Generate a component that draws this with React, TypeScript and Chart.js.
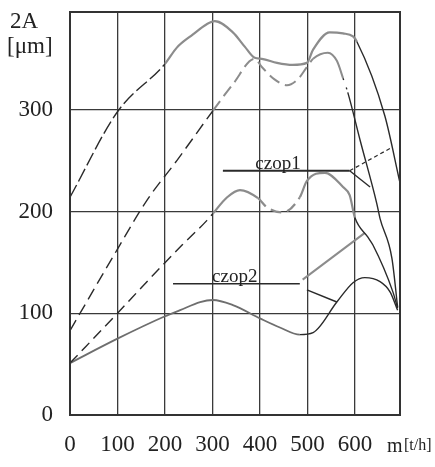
import React, { useEffect, useRef } from 'react';
import { Chart, registerables } from 'chart.js';
Chart.register(...registerables);

// axis ticks
const xTicks = [0, 100, 200, 300, 400, 500, 600];
const yTicks = [0, 100, 200, 300];
const xMax = 695;
const yMax = 396;

// upper envelope curve
const upperX = [0, 100, 200, 225, 259, 288, 305, 343, 368, 389, 404, 436, 469, 499, 512, 547, 575, 596, 604, 663, 695];
const upperY = [214, 298, 345, 361, 374, 384, 387, 376, 362, 351, 350, 346, 344, 346, 359, 376, 375, 372, 367, 294, 228];

// second (dashed) curve
const curveBX = [0, 100, 162, 225, 301, 343, 389, 404, 430, 457, 480, 499, 512, 543, 562, 575, 585, 611, 646, 653, 678, 690];
const curveBY = [83, 163, 211, 250, 299, 325, 350, 342, 330, 324, 330, 342, 350, 356, 348, 331, 317, 270, 208, 193, 154, 106];

// czop1 lower curve
const curveDX = [0, 100, 162, 236, 288, 301, 331, 358, 396, 415, 448, 484, 499, 537, 575, 589, 600, 627, 638, 680, 690];
const curveDY = [51, 100, 131, 167, 191, 198, 214, 221, 213, 204, 199, 214, 230, 238, 224, 216, 194, 175, 167, 121, 105];

// czop2 lower curve
const curveCX = [0, 100, 200, 232, 274, 301, 343, 400, 442, 484, 512, 562, 596, 621, 653, 674, 690];
const curveCY = [51, 75, 97, 103, 111, 113, 108, 95, 86, 79, 81, 111, 130, 135, 131, 121, 103];

// label leader lines
const czop1LineX = [322, 589];
const czop1LineY = [240, 240];
const czop1DotX = [589, 678];
const czop1DotY = [240, 263];
const czop1TickX = [589, 632];
const czop1TickY = [240, 224];
const czop2LineX = [217, 484];
const czop2LineY = [129, 129];
const czop2GrayX = [490, 621];
const czop2GrayY = [133, 179];
const czop2TickX = [499, 562];
const czop2TickY = [123, 111];

const czop1Text = 'czop1';
const czop1Pos = { x: 438, y: 242 };
const czop2Text = 'czop2';
const czop2Pos = { x: 347, y: 131 };

const pts = (xs: number[], ys: number[]) => xs.map((x, i) => ({ x, y: ys[i] }));

export default function App() {
  const ref = useRef<HTMLCanvasElement>(null);
  useEffect(() => {
    const serif = '"Liberation Serif", "Times New Roman", serif';
    const BLACK = '#2a2a2a';
    const GRAY = '#8c8c8c';

    const annot = {
      id: 'annot',
      beforeDraw(chart: any) {
        const c = chart.ctx;
        c.save();
        c.fillStyle = '#ffffff';
        c.fillRect(0, 0, chart.width, chart.height);
        c.restore();
      },
      afterDraw(chart: any) {
        const c = chart.ctx;
        const a = chart.chartArea;
        const xs = chart.scales.x;
        const ys = chart.scales.y;
        c.save();
        c.strokeStyle = '#333';
        c.lineWidth = 2;
        c.strokeRect(a.left, a.top, a.right - a.left, a.bottom - a.top);
        c.fillStyle = '#222';
        c.textAlign = 'center';
        c.textBaseline = 'alphabetic';
        c.font = `19px ${serif}`;
        c.fillText(czop1Text, xs.getPixelForValue(czop1Pos.x), ys.getPixelForValue(czop1Pos.y));
        c.fillText(czop2Text, xs.getPixelForValue(czop2Pos.x), ys.getPixelForValue(czop2Pos.y));
        c.textAlign = 'left';
        c.font = `23px ${serif}`;
        c.fillText('2A', 10, 28);
        c.fillText('[\u03bcm]', 7, 53);
        c.font = `20px ${serif}`;
        c.fillText('m', 387, 452);
        c.font = `16px ${serif}`;
        c.fillText('[t/h]', 404, 450);
        c.restore();
      },
    };

    const line = (data: any, extra: any) => ({
      data,
      borderColor: BLACK,
      borderWidth: 1.4,
      pointRadius: 0,
      fill: false,
      cubicInterpolationMode: 'monotone',
      ...extra,
    });

    const chart = new Chart(ref.current as HTMLCanvasElement, {
      type: 'line',
      data: {
        datasets: [
          line(pts(upperX, upperY), {
            segment: {
              borderDash: (ctx: any) => (ctx.p0.parsed.x < 200 ? [14, 4] : undefined),
              borderColor: (ctx: any) => (ctx.p0.parsed.x < 200 || ctx.p0.parsed.x >= 604 ? BLACK : GRAY),
              borderWidth: (ctx: any) => (ctx.p0.parsed.x < 200 || ctx.p0.parsed.x >= 604 ? 1.4 : 2.2),
            },
          }),
          line(pts(curveBX, curveBY), {
            segment: {
              borderDash: (ctx: any) => (ctx.p0.parsed.x < 500 ? [12, 6] : ctx.p0.parsed.x >= 575 && ctx.p0.parsed.x < 585 ? [2, 8] : undefined),
              borderColor: (ctx: any) => (ctx.p0.parsed.x >= 300 && ctx.p0.parsed.x < 575 ? GRAY : BLACK),
              borderWidth: (ctx: any) => (ctx.p0.parsed.x >= 300 && ctx.p0.parsed.x < 575 ? 2 : 1.4),
            },
          }),
          line(pts(curveDX, curveDY), {
            segment: {
              borderDash: (ctx: any) => (ctx.p0.parsed.x < 300 || (ctx.p0.parsed.x >= 396 && ctx.p0.parsed.x < 484) ? [11, 6] : undefined),
              borderColor: (ctx: any) => (ctx.p0.parsed.x < 300 || ctx.p0.parsed.x >= 600 ? BLACK : GRAY),
              borderWidth: (ctx: any) => (ctx.p0.parsed.x < 300 || ctx.p0.parsed.x >= 600 ? 1.4 : 2.2),
            },
          }),
          line(pts(curveCX, curveCY), {
            segment: {
              borderColor: (ctx: any) => (ctx.p0.parsed.x < 484 ? '#6e6e6e' : BLACK),
              borderWidth: (ctx: any) => (ctx.p0.parsed.x < 484 ? 1.8 : 1.4),
            },
          }),
          line(pts(czop1LineX, czop1LineY), { borderWidth: 1.8 }),
          line(pts(czop1DotX, czop1DotY), { borderDash: [4, 3], borderWidth: 1.2 }),
          line(pts(czop1TickX, czop1TickY), { borderWidth: 1.4 }),
          line(pts(czop2LineX, czop2LineY), { borderWidth: 1.6 }),
          line(pts(czop2GrayX, czop2GrayY), { borderColor: GRAY, borderWidth: 2 }),
          line(pts(czop2TickX, czop2TickY), { borderWidth: 1.5 }),
        ],
      },
      options: {
        animation: false,
        responsive: true,
        maintainAspectRatio: false,
        layout: { padding: { left: 0, right: 35, top: 12, bottom: 0 } },
        plugins: { legend: { display: false }, tooltip: { enabled: false } },
        scales: {
          x: {
            type: 'linear',
            min: 0,
            max: xMax,
            afterFit: (s: any) => {
              s.height = 52;
              s.paddingLeft = 0;
              s.paddingRight = 0;
            },
            afterBuildTicks: (s: any) => {
              s.ticks = xTicks.map((v) => ({ value: v }));
            },
            grid: { color: '#3a3a3a', lineWidth: 1.3, drawTicks: false },
            border: { display: false },
            ticks: { font: { family: serif, size: 23 }, color: '#222', padding: 16, maxRotation: 0, autoSkip: false },
          },
          y: {
            type: 'linear',
            min: 0,
            max: yMax,
            afterFit: (s: any) => {
              s.width = 70;
              s.paddingTop = 0;
              s.paddingBottom = 0;
            },
            afterBuildTicks: (s: any) => {
              s.ticks = yTicks.map((v) => ({ value: v }));
            },
            grid: { color: '#3a3a3a', lineWidth: 1.3, drawTicks: false },
            border: { display: false },
            ticks: { font: { family: serif, size: 23 }, color: '#222', padding: 17 },
          },
        },
      } as any,
      plugins: [annot],
    });
    return () => chart.destroy();
  }, []);
  return (
    <div style={{ position: 'fixed', left: 0, top: 0, width: 435, height: 467, background: '#fff' }}>
      <canvas ref={ref} />
    </div>
  );
}
